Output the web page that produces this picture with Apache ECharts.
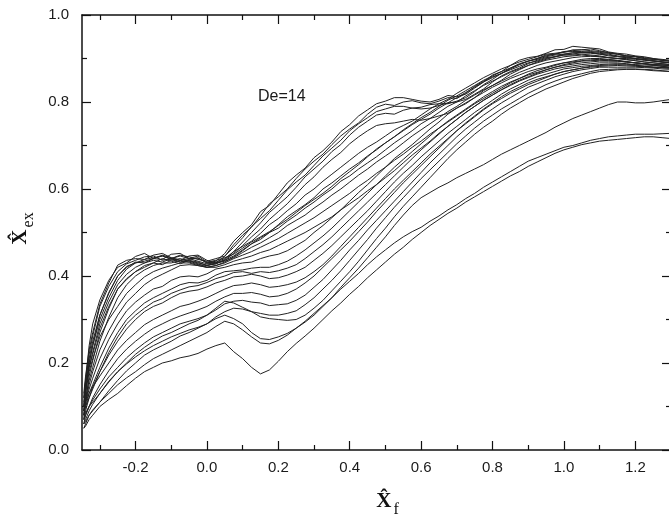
<!DOCTYPE html>
<html>
<head>
<meta charset="utf-8">
<script src="https://cdn.jsdelivr.net/npm/echarts@6/dist/echarts.min.js"></script>
<style>html,body{margin:0;padding:0;background:#fff}#c{width:669px;height:518px}</style>
</head>
<body>
<div id="c"></div>
<script>
// x positions shared by all curves
const xs = [-0.345,-0.34,-0.33,-0.32,-0.3,-0.275,-0.25,-0.225,-0.2,-0.175,-0.15,-0.125,-0.1,-0.075,-0.05,-0.025,0,0.025,0.05,0.075,0.1,0.125,0.15,0.175,0.2,0.225,0.25,0.275,0.3,0.325,0.35,0.375,0.4,0.425,0.45,0.475,0.5,0.525,0.55,0.575,0.6,0.625,0.65,0.675,0.7,0.725,0.75,0.775,0.8,0.825,0.85,0.875,0.9,0.925,0.95,0.975,1.0,1.025,1.05,1.075,1.1,1.125,1.15,1.175,1.2,1.225,1.25,1.275,1.3];

// curves (x̂_ex values)
const T1 = [0.10,0.16,0.24,0.29,0.345,0.39,0.42,0.43,0.445,0.452,0.44,0.438,0.45,0.452,0.44,0.441,0.43,0.434,0.452,0.48,0.50,0.518,0.548,0.562,0.588,0.614,0.632,0.648,0.672,0.688,0.708,0.732,0.748,0.768,0.782,0.796,0.802,0.81,0.81,0.806,0.802,0.80,0.806,0.815,0.812,0.818,0.832,0.846,0.862,0.87,0.884,0.896,0.902,0.905,0.912,0.92,0.921,0.928,0.926,0.924,0.922,0.915,0.912,0.91,0.906,0.904,0.90,0.898,0.896];
const T5 = [0.13,0.17,0.23,0.27,0.335,0.384,0.425,0.436,0.44,0.438,0.448,0.452,0.442,0.436,0.446,0.448,0.436,0.43,0.445,0.472,0.494,0.512,0.538,0.566,0.582,0.60,0.624,0.646,0.664,0.68,0.702,0.722,0.738,0.752,0.772,0.788,0.795,0.792,0.80,0.803,0.798,0.796,0.802,0.81,0.808,0.82,0.836,0.848,0.858,0.865,0.878,0.888,0.894,0.90,0.906,0.91,0.914,0.92,0.92,0.922,0.918,0.913,0.91,0.906,0.904,0.90,0.898,0.896,0.894];
const T2 = [0.12,0.155,0.22,0.262,0.33,0.376,0.41,0.428,0.436,0.444,0.446,0.436,0.44,0.448,0.444,0.438,0.434,0.44,0.446,0.466,0.488,0.514,0.532,0.55,0.574,0.598,0.616,0.632,0.654,0.676,0.694,0.712,0.734,0.75,0.764,0.778,0.784,0.79,0.79,0.786,0.788,0.794,0.796,0.796,0.802,0.81,0.824,0.84,0.852,0.866,0.876,0.886,0.894,0.90,0.908,0.91,0.916,0.918,0.92,0.918,0.916,0.914,0.91,0.906,0.905,0.902,0.90,0.896,0.893];
const T3 = [0.08,0.13,0.20,0.24,0.31,0.362,0.40,0.42,0.432,0.43,0.44,0.446,0.438,0.432,0.435,0.43,0.425,0.428,0.438,0.456,0.478,0.50,0.522,0.546,0.564,0.582,0.604,0.628,0.646,0.664,0.686,0.702,0.724,0.742,0.756,0.77,0.774,0.772,0.781,0.786,0.784,0.786,0.792,0.798,0.80,0.806,0.818,0.83,0.846,0.86,0.87,0.878,0.888,0.896,0.902,0.904,0.91,0.913,0.914,0.914,0.912,0.91,0.906,0.904,0.90,0.897,0.894,0.892,0.89];
const T4 = [0.09,0.14,0.19,0.225,0.29,0.34,0.38,0.404,0.42,0.43,0.436,0.432,0.44,0.446,0.44,0.434,0.428,0.43,0.436,0.452,0.47,0.49,0.508,0.53,0.548,0.566,0.588,0.61,0.628,0.65,0.668,0.684,0.704,0.72,0.734,0.746,0.75,0.752,0.756,0.76,0.758,0.762,0.768,0.774,0.786,0.796,0.81,0.826,0.838,0.85,0.864,0.874,0.884,0.892,0.898,0.904,0.908,0.91,0.914,0.916,0.914,0.912,0.91,0.906,0.904,0.90,0.898,0.896,0.894];
const G1 = [0.11,0.15,0.20,0.24,0.30,0.35,0.39,0.416,0.43,0.438,0.442,0.446,0.44,0.432,0.438,0.442,0.43,0.432,0.44,0.456,0.468,0.48,0.498,0.518,0.532,0.55,0.566,0.586,0.60,0.618,0.634,0.65,0.666,0.682,0.696,0.708,0.722,0.736,0.746,0.756,0.77,0.784,0.796,0.806,0.82,0.832,0.844,0.856,0.866,0.876,0.884,0.892,0.898,0.904,0.91,0.912,0.915,0.916,0.916,0.914,0.91,0.908,0.905,0.902,0.90,0.897,0.895,0.892,0.89];
const B7 = [0.12,0.16,0.21,0.25,0.31,0.36,0.40,0.422,0.43,0.434,0.44,0.448,0.442,0.436,0.44,0.446,0.432,0.436,0.442,0.45,0.464,0.478,0.49,0.502,0.516,0.53,0.546,0.562,0.576,0.59,0.606,0.624,0.64,0.656,0.674,0.692,0.706,0.72,0.736,0.75,0.764,0.776,0.79,0.804,0.814,0.826,0.838,0.85,0.86,0.87,0.878,0.886,0.894,0.898,0.904,0.908,0.91,0.913,0.913,0.912,0.91,0.906,0.904,0.902,0.90,0.898,0.895,0.892,0.89];
const G2 = [0.07,0.11,0.17,0.205,0.27,0.325,0.37,0.392,0.41,0.424,0.43,0.426,0.436,0.44,0.434,0.428,0.42,0.424,0.432,0.444,0.458,0.474,0.488,0.50,0.518,0.536,0.55,0.564,0.58,0.60,0.614,0.63,0.646,0.66,0.676,0.69,0.706,0.72,0.734,0.748,0.76,0.772,0.786,0.798,0.81,0.822,0.834,0.846,0.856,0.866,0.874,0.882,0.89,0.894,0.90,0.904,0.908,0.908,0.91,0.908,0.906,0.902,0.90,0.90,0.898,0.896,0.894,0.892,0.89];
const G6 = [0.10,0.14,0.19,0.22,0.28,0.33,0.37,0.394,0.41,0.42,0.43,0.44,0.434,0.428,0.436,0.432,0.424,0.428,0.436,0.446,0.46,0.474,0.484,0.50,0.51,0.526,0.54,0.556,0.57,0.586,0.60,0.618,0.63,0.646,0.66,0.674,0.69,0.706,0.72,0.734,0.75,0.762,0.776,0.79,0.80,0.814,0.826,0.838,0.848,0.858,0.868,0.876,0.884,0.89,0.896,0.90,0.904,0.906,0.908,0.906,0.904,0.902,0.90,0.898,0.895,0.892,0.89,0.888,0.886];
const G3 = [0.09,0.12,0.16,0.19,0.25,0.305,0.35,0.38,0.40,0.414,0.424,0.43,0.43,0.436,0.432,0.426,0.424,0.43,0.434,0.442,0.454,0.466,0.476,0.488,0.50,0.516,0.528,0.54,0.556,0.57,0.586,0.60,0.616,0.632,0.646,0.662,0.676,0.69,0.706,0.722,0.736,0.75,0.764,0.778,0.79,0.804,0.816,0.828,0.838,0.848,0.858,0.868,0.876,0.884,0.89,0.894,0.898,0.902,0.904,0.905,0.904,0.902,0.90,0.897,0.895,0.892,0.89,0.888,0.886];
const G4 = [0.10,0.13,0.18,0.21,0.26,0.30,0.33,0.36,0.38,0.398,0.41,0.418,0.424,0.43,0.43,0.424,0.42,0.424,0.43,0.44,0.448,0.456,0.466,0.476,0.486,0.498,0.51,0.522,0.534,0.548,0.562,0.576,0.59,0.606,0.62,0.636,0.65,0.666,0.68,0.696,0.71,0.726,0.74,0.754,0.768,0.782,0.796,0.808,0.82,0.832,0.844,0.854,0.864,0.872,0.878,0.884,0.89,0.894,0.898,0.90,0.90,0.898,0.896,0.893,0.89,0.888,0.886,0.885,0.884];
const G5 = [0.08,0.11,0.15,0.18,0.23,0.274,0.31,0.34,0.36,0.38,0.394,0.404,0.414,0.424,0.426,0.424,0.42,0.42,0.426,0.434,0.44,0.446,0.454,0.46,0.47,0.48,0.49,0.50,0.512,0.524,0.536,0.552,0.566,0.58,0.596,0.61,0.626,0.642,0.66,0.678,0.694,0.71,0.728,0.744,0.76,0.776,0.79,0.804,0.816,0.828,0.84,0.85,0.858,0.866,0.874,0.88,0.886,0.89,0.894,0.895,0.896,0.895,0.894,0.892,0.89,0.888,0.885,0.882,0.88];
const M1 = [0.09,0.11,0.14,0.165,0.21,0.254,0.29,0.32,0.34,0.356,0.37,0.376,0.39,0.398,0.40,0.398,0.405,0.416,0.42,0.426,0.43,0.432,0.44,0.446,0.45,0.458,0.47,0.482,0.50,0.516,0.534,0.552,0.572,0.592,0.61,0.63,0.65,0.67,0.686,0.702,0.72,0.738,0.754,0.772,0.786,0.798,0.81,0.822,0.834,0.844,0.854,0.862,0.87,0.876,0.88,0.886,0.89,0.892,0.895,0.897,0.898,0.897,0.895,0.892,0.89,0.888,0.886,0.885,0.884];
const M2 = [0.08,0.10,0.13,0.15,0.19,0.234,0.27,0.30,0.32,0.338,0.35,0.36,0.37,0.38,0.385,0.384,0.39,0.402,0.41,0.412,0.414,0.418,0.42,0.42,0.426,0.434,0.446,0.46,0.476,0.492,0.51,0.53,0.55,0.57,0.59,0.61,0.63,0.65,0.668,0.686,0.704,0.722,0.74,0.756,0.77,0.784,0.798,0.812,0.824,0.836,0.846,0.854,0.862,0.868,0.874,0.88,0.884,0.887,0.89,0.892,0.894,0.894,0.894,0.892,0.89,0.888,0.886,0.885,0.884];
const M8 = [0.09,0.10,0.12,0.145,0.18,0.224,0.26,0.29,0.31,0.326,0.34,0.348,0.36,0.368,0.375,0.378,0.385,0.394,0.40,0.408,0.41,0.406,0.41,0.408,0.412,0.418,0.426,0.44,0.456,0.472,0.49,0.51,0.53,0.55,0.57,0.59,0.61,0.63,0.65,0.67,0.69,0.708,0.726,0.744,0.76,0.776,0.79,0.804,0.816,0.828,0.838,0.848,0.856,0.864,0.87,0.876,0.88,0.883,0.886,0.888,0.89,0.89,0.89,0.888,0.886,0.885,0.884,0.882,0.88];
const M3 = [0.07,0.09,0.12,0.14,0.18,0.218,0.25,0.278,0.30,0.318,0.33,0.338,0.35,0.36,0.365,0.368,0.375,0.384,0.39,0.398,0.40,0.404,0.40,0.394,0.396,0.402,0.41,0.42,0.436,0.452,0.47,0.49,0.51,0.53,0.55,0.572,0.594,0.616,0.636,0.654,0.674,0.692,0.71,0.728,0.744,0.76,0.776,0.79,0.804,0.818,0.83,0.84,0.85,0.858,0.864,0.87,0.876,0.879,0.882,0.884,0.886,0.887,0.888,0.887,0.885,0.882,0.88,0.879,0.878];
const M4 = [0.10,0.11,0.13,0.145,0.17,0.20,0.23,0.252,0.27,0.288,0.30,0.31,0.32,0.33,0.335,0.342,0.35,0.36,0.37,0.378,0.38,0.384,0.38,0.374,0.376,0.38,0.386,0.396,0.41,0.426,0.446,0.468,0.49,0.512,0.534,0.556,0.578,0.60,0.62,0.64,0.66,0.68,0.698,0.716,0.734,0.75,0.766,0.782,0.796,0.808,0.82,0.83,0.84,0.848,0.856,0.864,0.87,0.874,0.878,0.882,0.884,0.885,0.886,0.885,0.884,0.882,0.88,0.879,0.878];
const M5 = [0.06,0.08,0.10,0.12,0.15,0.182,0.21,0.232,0.25,0.266,0.28,0.29,0.30,0.308,0.315,0.322,0.33,0.342,0.352,0.36,0.36,0.362,0.358,0.352,0.354,0.36,0.37,0.384,0.40,0.42,0.44,0.46,0.48,0.502,0.524,0.548,0.57,0.592,0.614,0.634,0.654,0.674,0.694,0.714,0.734,0.752,0.768,0.784,0.798,0.812,0.824,0.834,0.844,0.852,0.858,0.864,0.87,0.874,0.878,0.88,0.882,0.883,0.884,0.883,0.882,0.881,0.88,0.879,0.878];
const M6 = [0.07,0.08,0.10,0.115,0.14,0.168,0.19,0.212,0.23,0.246,0.26,0.27,0.28,0.29,0.296,0.302,0.31,0.322,0.336,0.342,0.344,0.34,0.338,0.332,0.334,0.336,0.344,0.356,0.374,0.392,0.414,0.436,0.46,0.482,0.506,0.528,0.55,0.572,0.594,0.616,0.638,0.66,0.68,0.70,0.72,0.738,0.754,0.77,0.784,0.798,0.81,0.822,0.834,0.842,0.85,0.858,0.864,0.87,0.874,0.877,0.88,0.88,0.88,0.88,0.88,0.879,0.878,0.876,0.875];
const M7 = [0.08,0.085,0.10,0.11,0.13,0.156,0.18,0.198,0.214,0.228,0.24,0.25,0.26,0.268,0.276,0.282,0.29,0.306,0.318,0.326,0.324,0.318,0.314,0.31,0.31,0.314,0.32,0.334,0.35,0.37,0.39,0.412,0.436,0.46,0.484,0.51,0.534,0.558,0.58,0.602,0.624,0.644,0.664,0.684,0.704,0.722,0.74,0.756,0.77,0.784,0.796,0.808,0.82,0.83,0.84,0.848,0.855,0.86,0.865,0.87,0.874,0.875,0.876,0.876,0.876,0.875,0.874,0.872,0.87];
const L0 = [0.06,0.07,0.09,0.105,0.13,0.158,0.18,0.20,0.22,0.236,0.25,0.262,0.27,0.28,0.29,0.298,0.31,0.326,0.342,0.338,0.328,0.318,0.306,0.302,0.30,0.298,0.30,0.31,0.326,0.344,0.366,0.388,0.41,0.434,0.46,0.486,0.51,0.536,0.56,0.582,0.604,0.626,0.648,0.67,0.69,0.708,0.726,0.742,0.756,0.772,0.786,0.798,0.81,0.82,0.83,0.838,0.846,0.854,0.86,0.866,0.87,0.872,0.874,0.875,0.875,0.874,0.872,0.871,0.87];
const L1 = [0.06,0.065,0.08,0.09,0.11,0.136,0.16,0.182,0.20,0.218,0.23,0.24,0.25,0.262,0.27,0.28,0.29,0.302,0.31,0.302,0.29,0.27,0.256,0.254,0.26,0.268,0.28,0.294,0.31,0.33,0.35,0.374,0.396,0.418,0.442,0.466,0.49,0.516,0.54,0.562,0.58,0.592,0.604,0.614,0.626,0.636,0.646,0.656,0.668,0.68,0.69,0.70,0.71,0.72,0.73,0.742,0.752,0.762,0.77,0.778,0.786,0.794,0.80,0.80,0.798,0.798,0.80,0.803,0.806];
const L2 = [0.05,0.06,0.08,0.092,0.11,0.13,0.15,0.166,0.18,0.196,0.21,0.22,0.23,0.24,0.25,0.26,0.27,0.284,0.296,0.29,0.276,0.26,0.246,0.244,0.252,0.264,0.28,0.296,0.314,0.332,0.35,0.37,0.388,0.406,0.426,0.444,0.46,0.476,0.49,0.502,0.512,0.526,0.538,0.552,0.564,0.578,0.59,0.604,0.616,0.628,0.64,0.652,0.664,0.672,0.68,0.688,0.696,0.70,0.706,0.712,0.716,0.72,0.722,0.724,0.726,0.726,0.726,0.727,0.728];
const L3 = [0.05,0.055,0.07,0.08,0.10,0.116,0.13,0.148,0.165,0.18,0.19,0.20,0.205,0.212,0.216,0.222,0.232,0.24,0.246,0.226,0.21,0.19,0.175,0.184,0.204,0.226,0.245,0.262,0.28,0.30,0.32,0.338,0.358,0.376,0.396,0.414,0.432,0.45,0.466,0.484,0.50,0.516,0.53,0.544,0.556,0.57,0.582,0.594,0.606,0.618,0.63,0.64,0.652,0.662,0.672,0.682,0.69,0.696,0.702,0.706,0.71,0.712,0.714,0.716,0.718,0.72,0.72,0.718,0.716];

// tick values / labels
const xMajorTicks = [-0.2,0,0.2,0.4,0.6,0.8,1.0,1.2];
const xMinorTicks = [-0.3,-0.1,0.1,0.3,0.5,0.7,0.9,1.1,1.3];
const yTicks = [0,0.2,0.4,0.6,0.8,1.0];

const curves = [T1,T5,T2,T3,T4,G1,B7,G2,G6,G3,G4,G5,M1,M2,M8,M3,M4,M5,M6,M7,L0,L1,L2,L3];

const chart = echarts.init(document.getElementById('c'), null, {renderer:'canvas'});
const fmt = v => (Math.abs(v) < 1e-9 ? 0 : v).toFixed(1);
const labelStyle = {fontFamily:'Liberation Sans, Arial, sans-serif', fontSize:15, color:'#1a1a1a'};
const lineStyle = {color:'#111', width:1.5};
const nameRich = {
  a:{fontFamily:'Liberation Serif, DejaVu Serif, serif', fontWeight:'bold', fontSize:21, color:'#111', verticalAlign:'bottom', padding:[0,0,6,0]},
  b:{fontFamily:'Liberation Serif, DejaVu Serif, serif', fontSize:16, color:'#111', verticalAlign:'bottom', padding:[0,0,0,2]}
};
function xAx(pos, major, showLabel, name){
  const ax = {
    type:'value', position:pos, min:-0.35, max:1.3,
    axisLine:{show:major, lineStyle:lineStyle, onZero:false},
    axisTick:{show:true, inside:true, length: major?9:5, lineStyle:{color:'#111', width:1.2},
      customValues: major ? xMajorTicks : xMinorTicks},
    axisLabel:{show:showLabel, ...labelStyle, margin:10, formatter:fmt, customValues:xMajorTicks},
    splitLine:{show:false}
  };
  if (name) {
    ax.name = name; ax.nameLocation = 'middle'; ax.nameGap = 41;
    ax.nameTextStyle = {rich:nameRich, padding:[0,0,0,22]};
  }
  return ax;
}
function yAx(pos, showLabel, name){
  const ax = {
    type:'value', position:pos, min:0, max:1, interval:0.2,
    axisLine:{show:true, lineStyle:lineStyle, onZero:false},
    axisTick:{show:true, inside:true, length:9, lineStyle:{color:'#111', width:1.2}},
    minorTick:{show:true, splitNumber:2, length:5, lineStyle:{color:'#111', width:1.2}},
    axisLabel:{show:showLabel, ...labelStyle, margin:13, formatter:fmt, customValues:yTicks},
    splitLine:{show:false}, minorSplitLine:{show:false}
  };
  if (name) {
    ax.name = name; ax.nameLocation = 'middle'; ax.nameGap = 42; ax.nameRotate = 90;
    ax.nameTextStyle = {rich:nameRich, padding:[0,0,0,8]};
  }
  return ax;
}

const option = {
  animation:false,
  backgroundColor:'#fff',
  grid:{left:82, right:-2, top:15, bottom:68, outerBoundsMode:'none', containLabel:false},
  xAxis:[
    xAx('bottom', true, true, '{a|X\u0302}{b|f}'),
    xAx('bottom', false, false),
    xAx('top', true, false),
    xAx('top', false, false)
  ],
  yAxis:[
    yAx('left', true, '{a|X\u0302}{b|ex}'),
    yAx('right', false)
  ],
  graphic:[{type:'text', left:258, top:89, style:{text:'De=14', font:'16px "Liberation Sans", Arial, sans-serif', fill:'#1a1a1a'}}],
  series: curves.map(c => ({
    type:'line', xAxisIndex:0, yAxisIndex:0, showSymbol:false, symbol:'none',
    lineStyle:{color:'#222', width:1}, clip:true,
    data: c.map((v,i) => [xs[i], v])
  }))
};
chart.setOption(option);
</script>
</body>
</html>
